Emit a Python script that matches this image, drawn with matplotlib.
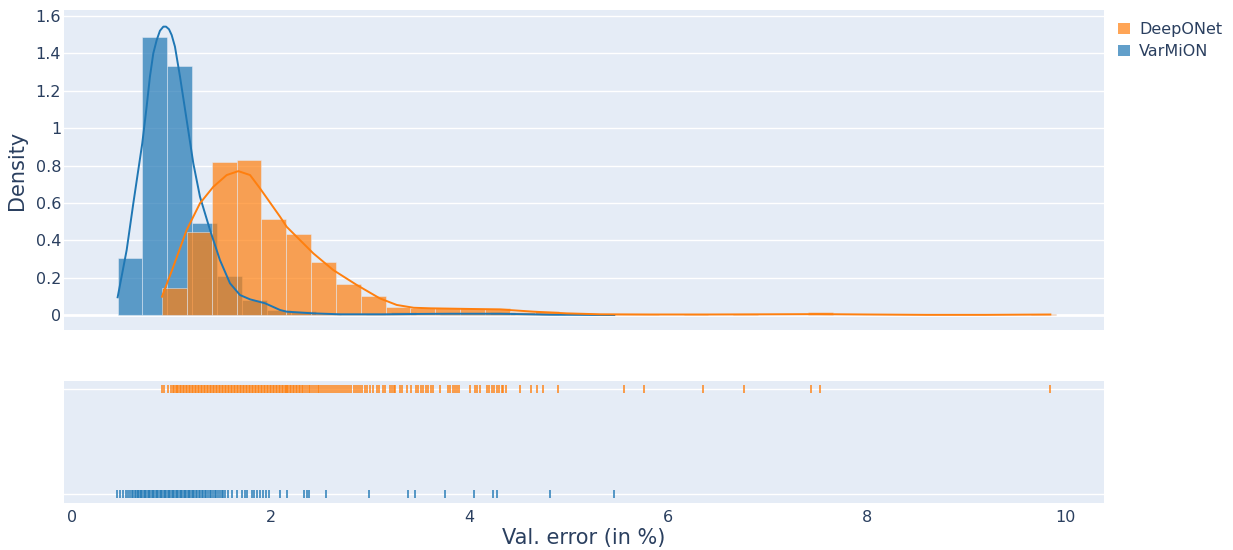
import numpy as np
import matplotlib
matplotlib.use('Agg')
import matplotlib.pyplot as plt
from matplotlib.patches import Patch

# histogram data (density), bin size 0.25 starting at each series minimum
bin_size = 0.25
varmion_start = 0.46
varmion_hist = [0.304, 1.487, 1.335, 0.494, 0.209, 0.080, 0.027, 0.020, 0.007, 0.0,
                0.007, 0.014, 0.0, 0.007, 0.007, 0.014, 0.0, 0.007, 0.0, 0.007]
deeponet_start = 0.907
deeponet_hist = [0.146, 0.446, 0.820, 0.829, 0.512, 0.433, 0.282, 0.164, 0.103, 0.041,
                 0.037, 0.036, 0.036, 0.036, 0.014, 0.022, 0.0, 0.0, 0.007, 0.007,
                 0.0, 0.007, 0.0, 0.007, 0.0, 0.0, 0.014, 0.0, 0.0, 0.0,
                 0.0, 0.0, 0.0, 0.0, 0.0, 0.007]

# kde curves
varmion_kde_x = [0.46, 0.551, 0.618, 0.708, 0.752, 0.785, 0.819, 0.853, 0.886, 0.920, 0.947,
                 0.977, 1.004, 1.037, 1.088, 1.155, 1.222, 1.289, 1.39, 1.49, 1.591, 1.692,
                 1.793, 1.944, 2.095, 2.162, 2.43, 2.70, 3.13, 3.50, 3.81, 4.31, 4.81, 5.46]
varmion_kde_y = [0.095, 0.348, 0.598, 0.919, 1.115, 1.275, 1.400, 1.471, 1.521, 1.543, 1.543,
                 1.529, 1.498, 1.436, 1.275, 1.043, 0.811, 0.633, 0.455, 0.294, 0.170, 0.107,
                 0.084, 0.063, 0.027, 0.018, 0.009, 0.004, 0.004, 0.006, 0.007, 0.007, 0.002, 0.0]
deeponet_kde_x = [0.906, 1.02, 1.155, 1.289, 1.423, 1.558, 1.675, 1.793, 1.893, 2.095, 2.162,
                  2.43, 2.63, 2.867, 3.10, 3.27, 3.44, 3.61, 4.31, 4.65, 4.98, 5.32, 5.8,
                  6.4, 7.0, 7.5, 8.0, 8.6, 9.2, 9.85]
deeponet_kde_y = [0.098, 0.258, 0.455, 0.598, 0.686, 0.749, 0.770, 0.749, 0.678, 0.526, 0.472,
                  0.330, 0.241, 0.161, 0.089, 0.054, 0.039, 0.036, 0.030, 0.018, 0.009, 0.004, 0.003,
                  0.003, 0.004, 0.005, 0.003, 0.001, 0.001, 0.003]

# rug samples
varmion_rug = [0.457, 0.483, 0.51, 0.54, 0.56, 0.58, 0.60, 0.61, 0.63, 0.645, 0.66, 0.67, 0.685,
               0.70, 0.71, 0.725, 0.74, 0.75, 0.765, 0.78, 0.79, 0.805, 0.82, 0.83, 0.845, 0.86,
               0.87, 0.885, 0.90, 0.91, 0.925, 0.94, 0.95, 0.965, 0.98, 0.99, 1.005, 1.02, 1.03,
               1.045, 1.06, 1.07, 1.085, 1.10, 1.11, 1.125, 1.14, 1.15, 1.165, 1.18, 1.19, 1.205,
               1.22, 1.23, 1.245, 1.26, 1.275, 1.29, 1.305, 1.32, 1.335, 1.35, 1.37, 1.385, 1.40,
               1.42, 1.44, 1.455, 1.47, 1.49, 1.51, 1.525, 1.541, 1.574, 1.608, 1.658, 1.709,
               1.742, 1.766, 1.809, 1.833, 1.860, 1.893, 1.927, 1.954, 1.987, 2.095, 2.162, 2.34,
               2.364, 2.39, 2.56, 2.99, 3.38, 3.45, 3.76, 4.05, 4.24, 4.28, 4.81, 5.46]
deeponet_rug = [0.907, 0.926, 0.970, 0.994, 1.014, 1.027, 1.05, 1.06, 1.07, 1.09, 1.10, 1.12, 1.13,
                1.15, 1.16, 1.18, 1.19, 1.21, 1.22, 1.24, 1.25, 1.27, 1.28, 1.30, 1.31, 1.33, 1.34,
                1.36, 1.37, 1.39, 1.40, 1.42, 1.43, 1.45, 1.46, 1.48, 1.49, 1.51, 1.52, 1.54, 1.55,
                1.57, 1.58, 1.60, 1.61, 1.63, 1.64, 1.66, 1.67, 1.69, 1.70, 1.72, 1.73, 1.75, 1.76,
                1.78, 1.79, 1.81, 1.82, 1.84, 1.85, 1.87, 1.88, 1.90, 1.91, 1.93, 1.94, 1.96, 1.97,
                1.99, 2.00, 2.02, 2.03, 2.05, 2.06, 2.08, 2.09, 2.11, 2.12, 2.14, 2.15, 2.17, 2.18,
                2.20, 2.21, 2.23, 2.24, 2.26, 2.27, 2.29, 2.30, 2.32, 2.33, 2.35, 2.37, 2.39, 2.40,
                2.42, 2.44, 2.46, 2.48, 2.49, 2.51, 2.53, 2.55, 2.57, 2.59, 2.61, 2.63, 2.65, 2.67,
                2.69, 2.71, 2.73, 2.75, 2.77, 2.79, 2.81, 2.84, 2.86, 2.88, 2.90, 2.92, 2.95, 2.97,
                3.00, 3.035, 3.068, 3.095, 3.129, 3.152, 3.202, 3.219, 3.243, 3.253, 3.303, 3.320,
                3.371, 3.411, 3.464, 3.488, 3.511, 3.538, 3.565, 3.588, 3.612, 3.632, 3.706, 3.790,
                3.807, 3.840, 3.857, 3.880, 3.901, 4.008, 4.058, 4.075, 4.109, 4.176, 4.203, 4.226,
                4.250, 4.277, 4.303, 4.327, 4.344, 4.368, 4.512, 4.619, 4.680, 4.747, 4.897, 5.56,
                5.76, 6.35, 6.77, 7.44, 7.53, 9.85]

blue = '#1f77b4'
orange = '#ff7f0e'
bg = '#E5ECF6'
txt = '#2a3f5f'

plt.rcParams['font.family'] = ['DejaVu Sans']
fig = plt.figure(figsize=(12.33, 5.5), dpi=100)
ax = fig.add_axes([64 / 1233, 1 - 330 / 550, 1040 / 1233, 320 / 550])
ax2 = fig.add_axes([64 / 1233, 1 - 503 / 550, 1040 / 1233, 122 / 550])

for a in (ax, ax2):
    a.set_facecolor(bg)
    for s in a.spines.values():
        s.set_visible(False)
    a.set_xlim(-0.08, 10.39)
    a.tick_params(length=0, colors=txt, labelsize=11.5)

# histograms
bl = varmion_start + bin_size * np.arange(len(varmion_hist))
ol = deeponet_start + bin_size * np.arange(len(deeponet_hist))
ax.bar(bl, varmion_hist, width=bin_size, align='edge', color=blue, alpha=0.7,
       edgecolor=bg, linewidth=0.5, zorder=2)
ax.bar(ol, deeponet_hist, width=bin_size, align='edge', color=orange, alpha=0.7,
       edgecolor=bg, linewidth=0.5, zorder=2)
ax.plot(varmion_kde_x, varmion_kde_y, color=blue, lw=1.4, zorder=3)
ax.plot(deeponet_kde_x, deeponet_kde_y, color=orange, lw=1.4, zorder=3)

ax.set_ylim(-0.08, 1.632)
yt = [0, 0.2, 0.4, 0.6, 0.8, 1, 1.2, 1.4, 1.6]
ax.set_yticks(yt)
ax.set_yticklabels([('%g' % v) for v in yt])
ax.tick_params(axis='y', pad=2)
ax.set_xticks([])
ax.grid(axis='y', color='white', lw=1, zorder=0)
ax.axhline(0, color='white', lw=2, zorder=1)
ax.set_ylabel('Density', color=txt, fontsize=15, labelpad=6)

# rug
ax2.plot(varmion_rug, [0] * len(varmion_rug), ls='none', marker='|', ms=5.5, mew=1.3,
         color=blue, alpha=0.8, zorder=3)
ax2.plot(deeponet_rug, [1] * len(deeponet_rug), ls='none', marker='|', ms=5.5, mew=1.3,
         color=orange, alpha=0.8, zorder=3)
ax2.set_ylim(-0.086, 1.076)
ax2.set_yticks([0, 1])
ax2.set_yticklabels([])
ax2.grid(axis='y', color='white', lw=1, zorder=0)
ax2.set_axisbelow(True)
ax2.set_xticks([0, 2, 4, 6, 8, 10])
ax2.tick_params(axis='x', pad=5)
ax2.set_xlabel('Val. error (in %)', color=txt, fontsize=15, labelpad=2)

handles = [Patch(facecolor=orange, alpha=0.7, label='DeepONet'),
           Patch(facecolor=blue, alpha=0.7, label='VarMiON')]
fig.legend(handles=handles, loc='upper left', bbox_to_anchor=(1104 / 1233, 1 - 8 / 550),
           frameon=False, fontsize=11.5, handlelength=0.7, handleheight=0.7,
           handletextpad=0.6, labelspacing=0.4, labelcolor=txt)

fig.savefig('out.png', dpi=100, facecolor='white')
